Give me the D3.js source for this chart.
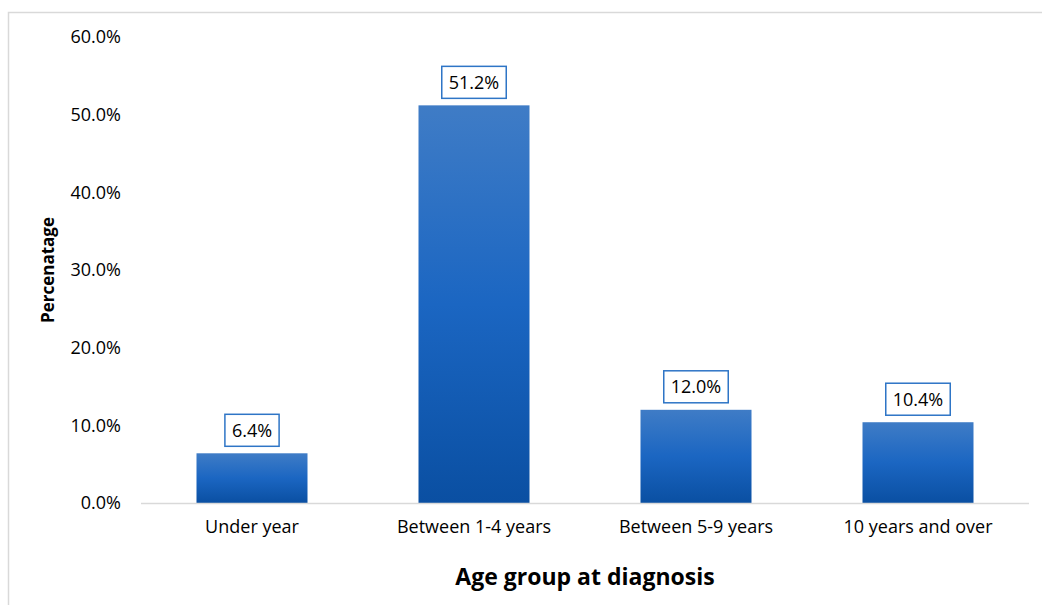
<!DOCTYPE html>
<html>
<head>
<meta charset="utf-8">
<script src="https://cdn.jsdelivr.net/npm/d3@7"></script>
<style>
  body { margin: 0; background: #fff; }
  svg, svg text { font-family: "Open Sans", "Noto Sans", sans-serif; }
</style>
</head>
<body>
<div id="chart"></div>
<script>
const categories = ["Under year", "Between 1-4 years", "Between 5-9 years", "10 years and over"];
const values = [6.4, 51.2, 12.0, 10.4];
const yTicks = [0, 10, 20, 30, 40, 50, 60];

const W = 1042, H = 605;
const margin = { top: 37, right: 13, bottom: 102, left: 141 };
const width = W - margin.left - margin.right;
const height = H - margin.top - margin.bottom;
const FONT = "'Open Sans', 'Noto Sans', sans-serif";

const svg = d3.select("#chart").append("svg")
    .attr("width", W)
    .attr("height", H);

// chart frame
svg.append("rect")
    .attr("x", 8.5).attr("y", 12.5)
    .attr("width", W + 20).attr("height", H + 20)
    .attr("fill", "none")
    .attr("stroke", "#d9d9d9")
    .attr("stroke-width", 1.5);

const defs = svg.append("defs");
const grad = defs.append("linearGradient")
    .attr("id", "barGrad")
    .attr("x1", 0).attr("y1", 0).attr("x2", 0).attr("y2", 1);
grad.append("stop").attr("offset", "0%").attr("stop-color", "#3f7cc6");
grad.append("stop").attr("offset", "50%").attr("stop-color", "#1b66c2");
grad.append("stop").attr("offset", "100%").attr("stop-color", "#0a4fa2");

const g = svg.append("g")
    .attr("transform", `translate(${margin.left},${margin.top})`);

const x = d3.scaleBand()
    .domain(categories)
    .range([0, width])
    .paddingInner(0.5)
    .paddingOuter(0.25);

const y = d3.scaleLinear()
    .domain([0, 60])
    .range([height, 0]);

// y tick labels
g.append("g")
    .call(d3.axisLeft(y).tickValues(yTicks).tickSize(0).tickPadding(20)
        .tickFormat(d => d3.format(".1f")(d) + "%"))
    .attr("font-family", FONT)
    .call(a => a.select(".domain").remove())
    .selectAll("text")
    .style("font-size", "18px")
    .attr("fill", "#000");

// bars
g.selectAll(".bar")
    .data(values)
    .enter().append("rect")
    .attr("class", "bar")
    .attr("x", (d, i) => x(categories[i]))
    .attr("y", d => y(d))
    .attr("width", x.bandwidth())
    .attr("height", d => height - y(d))
    .attr("fill", "url(#barGrad)");

// baseline
g.append("line")
    .attr("x1", 0).attr("x2", width)
    .attr("y1", height + 0.5).attr("y2", height + 0.5)
    .attr("stroke", "#d9d9d9")
    .attr("stroke-width", 1.5);

// x axis labels
g.append("g")
    .attr("transform", `translate(0,${height})`)
    .call(d3.axisBottom(x).tickSize(0).tickPadding(17))
    .attr("font-family", FONT)
    .call(a => a.select(".domain").remove())
    .selectAll("text")
    .style("font-size", "18px")
    .attr("fill", "#000");

// data labels
const lab = g.selectAll(".lab")
    .data(values)
    .enter().append("g")
    .attr("class", "lab")
    .attr("transform", (d, i) => `translate(${x(categories[i]) + x.bandwidth() / 2},${y(d) - 23})`);

lab.append("text")
    .attr("text-anchor", "middle")
    .attr("dy", "0.35em")
    .style("font-size", "18px")
    .attr("fill", "#000")
    .text(d => d3.format(".1f")(d) + "%");

lab.each(function () {
    const t = d3.select(this).select("text").node().getBBox();
    d3.select(this).insert("rect", "text")
        .attr("x", t.x - 7)
        .attr("y", -16)
        .attr("width", t.width + 14)
        .attr("height", 32)
        .attr("fill", "#fff")
        .attr("stroke", "#2e75c6")
        .attr("stroke-width", 1.5);
});

// axis titles
svg.append("text")
    .attr("transform", `translate(54,270) rotate(-90)`)
    .attr("text-anchor", "middle")
    .style("font-size", "17px")
    .style("font-weight", "bold")
    .text("Percenatage");

svg.append("text")
    .attr("x", margin.left + width / 2)
    .attr("y", 585)
    .attr("text-anchor", "middle")
    .style("font-size", "23px")
    .style("font-weight", "bold")
    .text("Age group at diagnosis");
</script>
</body>
</html>
